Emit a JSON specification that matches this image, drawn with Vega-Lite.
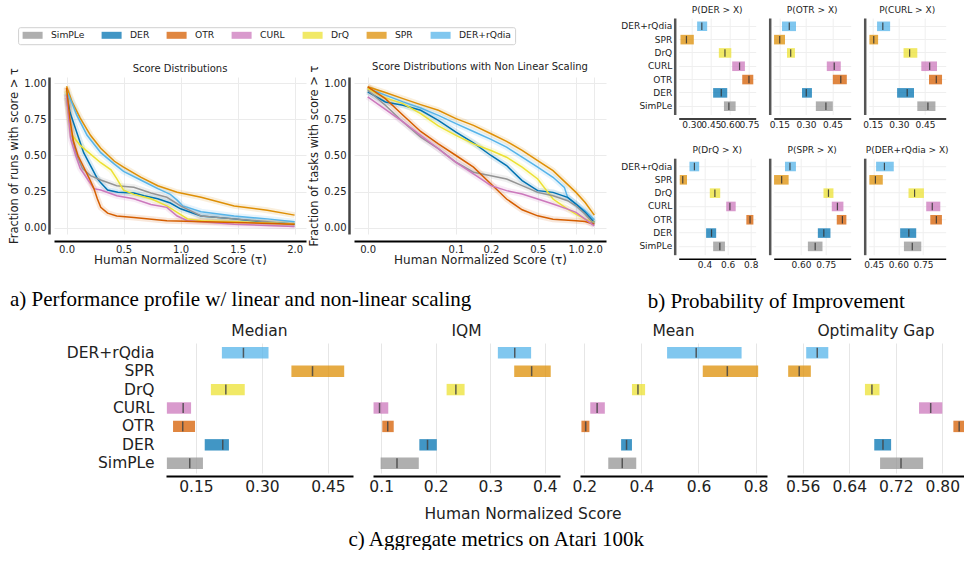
{
"$schema": "https://vega.github.io/schema/vega-lite/v6.json",
"background": "white",
"padding": {"left": 8, "top": 6, "right": 0, "bottom": 0},
"spacing": 11,
"config": {
 "font": "DejaVu Sans",
 "view": {"stroke": null},
 "axis": {"ticks": false, "labelColor": "#222", "titleColor": "#222", "titleFontWeight": "normal", "labelFlush": false, "labelOverlap": false, "gridColor": "#ebebeb", "gridWidth": 1},
 "title": {"fontWeight": "normal", "color": "#222", "frame": "group", "anchor": "middle"}
},
"datasets": {
 "profLin": [
  {"method":"SPR","tau":0,"f":0.98},{"method":"SPR","tau":0.05,"f":0.87},{"method":"SPR","tau":0.12,"f":0.76},{"method":"SPR","tau":0.21,"f":0.64},{"method":"SPR","tau":0.3,"f":0.55},{"method":"SPR","tau":0.42,"f":0.46},{"method":"SPR","tau":0.5,"f":0.42},{"method":"SPR","tau":0.65,"f":0.35},{"method":"SPR","tau":0.8,"f":0.29},{"method":"SPR","tau":0.97,"f":0.245},{"method":"SPR","tau":1.18,"f":0.21},{"method":"SPR","tau":1.47,"f":0.15},{"method":"SPR","tau":1.76,"f":0.12},{"method":"SPR","tau":2.0,"f":0.086},
  {"method":"DER+rQdia","tau":0,"f":0.95},{"method":"DER+rQdia","tau":0.05,"f":0.86},{"method":"DER+rQdia","tau":0.09,"f":0.78},{"method":"DER+rQdia","tau":0.18,"f":0.64},{"method":"DER+rQdia","tau":0.3,"f":0.52},{"method":"DER+rQdia","tau":0.42,"f":0.44},{"method":"DER+rQdia","tau":0.5,"f":0.39},{"method":"DER+rQdia","tau":0.65,"f":0.33},{"method":"DER+rQdia","tau":0.8,"f":0.27},{"method":"DER+rQdia","tau":0.91,"f":0.23},{"method":"DER+rQdia","tau":0.97,"f":0.19},{"method":"DER+rQdia","tau":1.02,"f":0.15},{"method":"DER+rQdia","tau":1.18,"f":0.11},{"method":"DER+rQdia","tau":1.47,"f":0.08},{"method":"DER+rQdia","tau":1.76,"f":0.06},{"method":"DER+rQdia","tau":2.0,"f":0.04},
  {"method":"DER","tau":0,"f":0.93},{"method":"DER","tau":0.03,"f":0.8},{"method":"DER","tau":0.09,"f":0.66},{"method":"DER","tau":0.15,"f":0.52},{"method":"DER","tau":0.21,"f":0.43},{"method":"DER","tau":0.27,"f":0.34},{"method":"DER","tau":0.3,"f":0.31},{"method":"DER","tau":0.36,"f":0.26},{"method":"DER","tau":0.45,"f":0.245},{"method":"DER","tau":0.59,"f":0.24},{"method":"DER","tau":0.68,"f":0.22},{"method":"DER","tau":0.8,"f":0.2},{"method":"DER","tau":0.91,"f":0.17},{"method":"DER","tau":1.0,"f":0.13},{"method":"DER","tau":1.18,"f":0.08},{"method":"DER","tau":1.47,"f":0.06},{"method":"DER","tau":1.76,"f":0.035},{"method":"DER","tau":2.0,"f":0.025},
  {"method":"SimPLe","tau":0,"f":0.9},{"method":"SimPLe","tau":0.04,"f":0.66},{"method":"SimPLe","tau":0.08,"f":0.52},{"method":"SimPLe","tau":0.14,"f":0.41},{"method":"SimPLe","tau":0.21,"f":0.36},{"method":"SimPLe","tau":0.3,"f":0.33},{"method":"SimPLe","tau":0.44,"f":0.29},{"method":"SimPLe","tau":0.59,"f":0.28},{"method":"SimPLe","tau":0.74,"f":0.24},{"method":"SimPLe","tau":0.88,"f":0.21},{"method":"SimPLe","tau":1.0,"f":0.15},{"method":"SimPLe","tau":1.18,"f":0.08},{"method":"SimPLe","tau":1.47,"f":0.06},{"method":"SimPLe","tau":1.76,"f":0.04},{"method":"SimPLe","tau":2.0,"f":0.02},
  {"method":"DrQ","tau":0,"f":0.95},{"method":"DrQ","tau":0.02,"f":0.78},{"method":"DrQ","tau":0.05,"f":0.64},{"method":"DrQ","tau":0.12,"f":0.57},{"method":"DrQ","tau":0.21,"f":0.51},{"method":"DrQ","tau":0.3,"f":0.45},{"method":"DrQ","tau":0.39,"f":0.4},{"method":"DrQ","tau":0.44,"f":0.34},{"method":"DrQ","tau":0.5,"f":0.26},{"method":"DrQ","tau":0.59,"f":0.23},{"method":"DrQ","tau":0.74,"f":0.2},{"method":"DrQ","tau":0.88,"f":0.15},{"method":"DrQ","tau":0.97,"f":0.105},{"method":"DrQ","tau":1.06,"f":0.06},{"method":"DrQ","tau":1.18,"f":0.047},{"method":"DrQ","tau":1.47,"f":0.04},{"method":"DrQ","tau":2.0,"f":0.025},
  {"method":"CURL","tau":0,"f":0.92},{"method":"CURL","tau":0.035,"f":0.62},{"method":"CURL","tau":0.08,"f":0.5},{"method":"CURL","tau":0.12,"f":0.41},{"method":"CURL","tau":0.18,"f":0.34},{"method":"CURL","tau":0.24,"f":0.27},{"method":"CURL","tau":0.3,"f":0.26},{"method":"CURL","tau":0.44,"f":0.22},{"method":"CURL","tau":0.59,"f":0.2},{"method":"CURL","tau":0.74,"f":0.16},{"method":"CURL","tau":0.88,"f":0.14},{"method":"CURL","tau":0.97,"f":0.08},{"method":"CURL","tau":1.06,"f":0.047},{"method":"CURL","tau":1.47,"f":0.023},{"method":"CURL","tau":2.0,"f":0.007},
  {"method":"OTR","tau":0,"f":0.97},{"method":"OTR","tau":0.03,"f":0.75},{"method":"OTR","tau":0.06,"f":0.6},{"method":"OTR","tau":0.1,"f":0.5},{"method":"OTR","tau":0.15,"f":0.42},{"method":"OTR","tau":0.2,"f":0.34},{"method":"OTR","tau":0.24,"f":0.27},{"method":"OTR","tau":0.27,"f":0.2},{"method":"OTR","tau":0.3,"f":0.14},{"method":"OTR","tau":0.36,"f":0.1},{"method":"OTR","tau":0.44,"f":0.08},{"method":"OTR","tau":0.59,"f":0.07},{"method":"OTR","tau":0.88,"f":0.047},{"method":"OTR","tau":1.47,"f":0.035},{"method":"OTR","tau":2.0,"f":0.023}
 ],
 "profNL": [
  {"method":"SPR","tau":0,"f":0.977},{"method":"SPR","tau":0.02,"f":0.937},{"method":"SPR","tau":0.04,"f":0.895},{"method":"SPR","tau":0.06,"f":0.853},{"method":"SPR","tau":0.08,"f":0.814},{"method":"SPR","tau":0.1,"f":0.756},{"method":"SPR","tau":0.15,"f":0.709},{"method":"SPR","tau":0.2,"f":0.651},{"method":"SPR","tau":0.3,"f":0.598},{"method":"SPR","tau":0.4,"f":0.535},{"method":"SPR","tau":0.5,"f":0.465},{"method":"SPR","tau":0.7,"f":0.395},{"method":"SPR","tau":1.0,"f":0.244},{"method":"SPR","tau":1.5,"f":0.174},{"method":"SPR","tau":2.0,"f":0.086},
  {"method":"DER+rQdia","tau":0,"f":0.965},{"method":"DER+rQdia","tau":0.02,"f":0.919},{"method":"DER+rQdia","tau":0.04,"f":0.872},{"method":"DER+rQdia","tau":0.06,"f":0.83},{"method":"DER+rQdia","tau":0.08,"f":0.779},{"method":"DER+rQdia","tau":0.1,"f":0.721},{"method":"DER+rQdia","tau":0.15,"f":0.667},{"method":"DER+rQdia","tau":0.2,"f":0.612},{"method":"DER+rQdia","tau":0.3,"f":0.558},{"method":"DER+rQdia","tau":0.4,"f":0.488},{"method":"DER+rQdia","tau":0.5,"f":0.419},{"method":"DER+rQdia","tau":0.7,"f":0.349},{"method":"DER+rQdia","tau":0.848,"f":0.279},{"method":"DER+rQdia","tau":0.891,"f":0.209},{"method":"DER+rQdia","tau":1.0,"f":0.163},{"method":"DER+rQdia","tau":1.5,"f":0.116},{"method":"DER+rQdia","tau":2.0,"f":0.053},
  {"method":"DER","tau":0,"f":0.942},{"method":"DER","tau":0.02,"f":0.872},{"method":"DER","tau":0.04,"f":0.849},{"method":"DER","tau":0.06,"f":0.814},{"method":"DER","tau":0.08,"f":0.744},{"method":"DER","tau":0.1,"f":0.663},{"method":"DER","tau":0.15,"f":0.588},{"method":"DER","tau":0.2,"f":0.5},{"method":"DER","tau":0.3,"f":0.43},{"method":"DER","tau":0.4,"f":0.326},{"method":"DER","tau":0.5,"f":0.256},{"method":"DER","tau":0.7,"f":0.244},{"method":"DER","tau":0.891,"f":0.209},{"method":"DER","tau":1.0,"f":0.163},{"method":"DER","tau":1.5,"f":0.105},{"method":"DER","tau":2.0,"f":0.035},
  {"method":"DrQ","tau":0,"f":0.965},{"method":"DrQ","tau":0.02,"f":0.9},{"method":"DrQ","tau":0.04,"f":0.86},{"method":"DrQ","tau":0.06,"f":0.791},{"method":"DrQ","tau":0.08,"f":0.705},{"method":"DrQ","tau":0.1,"f":0.64},{"method":"DrQ","tau":0.15,"f":0.581},{"method":"DrQ","tau":0.2,"f":0.535},{"method":"DrQ","tau":0.3,"f":0.488},{"method":"DrQ","tau":0.4,"f":0.419},{"method":"DrQ","tau":0.5,"f":0.337},{"method":"DrQ","tau":0.7,"f":0.198},{"method":"DrQ","tau":0.891,"f":0.128},{"method":"DrQ","tau":1.0,"f":0.093},{"method":"DrQ","tau":1.5,"f":0.058},{"method":"DrQ","tau":2.0,"f":0.035},
  {"method":"SimPLe","tau":0,"f":0.953},{"method":"SimPLe","tau":0.02,"f":0.849},{"method":"SimPLe","tau":0.04,"f":0.733},{"method":"SimPLe","tau":0.06,"f":0.628},{"method":"SimPLe","tau":0.08,"f":0.547},{"method":"SimPLe","tau":0.1,"f":0.453},{"method":"SimPLe","tau":0.15,"f":0.384},{"method":"SimPLe","tau":0.2,"f":0.36},{"method":"SimPLe","tau":0.3,"f":0.337},{"method":"SimPLe","tau":0.4,"f":0.291},{"method":"SimPLe","tau":0.5,"f":0.244},{"method":"SimPLe","tau":0.7,"f":0.221},{"method":"SimPLe","tau":0.891,"f":0.186},{"method":"SimPLe","tau":1.0,"f":0.151},{"method":"SimPLe","tau":1.5,"f":0.093},{"method":"SimPLe","tau":2.0,"f":0.023},
  {"method":"OTR","tau":0,"f":0.977},{"method":"OTR","tau":0.02,"f":0.895},{"method":"OTR","tau":0.04,"f":0.779},{"method":"OTR","tau":0.06,"f":0.667},{"method":"OTR","tau":0.08,"f":0.581},{"method":"OTR","tau":0.1,"f":0.5},{"method":"OTR","tau":0.15,"f":0.419},{"method":"OTR","tau":0.2,"f":0.302},{"method":"OTR","tau":0.3,"f":0.198},{"method":"OTR","tau":0.4,"f":0.123},{"method":"OTR","tau":0.5,"f":0.081},{"method":"OTR","tau":0.7,"f":0.058},{"method":"OTR","tau":1.0,"f":0.047},{"method":"OTR","tau":1.5,"f":0.042},{"method":"OTR","tau":2.0,"f":0.023},
  {"method":"CURL","tau":0,"f":0.907},{"method":"CURL","tau":0.02,"f":0.821},{"method":"CURL","tau":0.04,"f":0.733},{"method":"CURL","tau":0.06,"f":0.64},{"method":"CURL","tau":0.08,"f":0.547},{"method":"CURL","tau":0.1,"f":0.453},{"method":"CURL","tau":0.15,"f":0.372},{"method":"CURL","tau":0.2,"f":0.291},{"method":"CURL","tau":0.3,"f":0.256},{"method":"CURL","tau":0.4,"f":0.233},{"method":"CURL","tau":0.5,"f":0.198},{"method":"CURL","tau":0.7,"f":0.163},{"method":"CURL","tau":0.891,"f":0.128},{"method":"CURL","tau":1.0,"f":0.105},{"method":"CURL","tau":1.5,"f":0.058},{"method":"CURL","tau":2.0,"f":0.012}
 ],
 "poi": [
  {"panel":"DER","method":"DER+rQdia","lo":0.342,"med":0.379,"hi":0.421},{"panel":"DER","method":"SPR","lo":0.211,"med":0.258,"hi":0.316},{"panel":"DER","method":"DrQ","lo":0.513,"med":0.561,"hi":0.611},{"panel":"DER","method":"CURL","lo":0.618,"med":0.676,"hi":0.718},{"panel":"DER","method":"OTR","lo":0.697,"med":0.75,"hi":0.784},{"panel":"DER","method":"DER","lo":0.468,"med":0.532,"hi":0.579},{"panel":"DER","method":"SimPLe","lo":0.553,"med":0.592,"hi":0.645},
  {"panel":"OTR","method":"DER+rQdia","lo":0.165,"med":0.206,"hi":0.244},{"panel":"OTR","method":"SPR","lo":0.12,"med":0.152,"hi":0.182},{"panel":"OTR","method":"DrQ","lo":0.193,"med":0.214,"hi":0.238},{"panel":"OTR","method":"CURL","lo":0.418,"med":0.46,"hi":0.497},{"panel":"OTR","method":"OTR","lo":0.452,"med":0.497,"hi":0.531},{"panel":"OTR","method":"DER","lo":0.278,"med":0.302,"hi":0.334},{"panel":"OTR","method":"SimPLe","lo":0.356,"med":0.413,"hi":0.452},
  {"panel":"CURL","method":"DER+rQdia","lo":0.175,"med":0.208,"hi":0.25},{"panel":"CURL","method":"SPR","lo":0.131,"med":0.156,"hi":0.181},{"panel":"CURL","method":"DrQ","lo":0.327,"med":0.362,"hi":0.406},{"panel":"CURL","method":"CURL","lo":0.429,"med":0.477,"hi":0.519},{"panel":"CURL","method":"OTR","lo":0.473,"med":0.515,"hi":0.548},{"panel":"CURL","method":"DER","lo":0.29,"med":0.348,"hi":0.387},{"panel":"CURL","method":"SimPLe","lo":0.406,"med":0.467,"hi":0.51},
  {"panel":"DrQ","method":"DER+rQdia","lo":0.27,"med":0.313,"hi":0.354},{"panel":"DrQ","method":"SPR","lo":0.186,"med":0.212,"hi":0.249},{"panel":"DrQ","method":"DrQ","lo":0.446,"med":0.49,"hi":0.536},{"panel":"DrQ","method":"CURL","lo":0.588,"med":0.62,"hi":0.67},{"panel":"DrQ","method":"OTR","lo":0.762,"med":0.794,"hi":0.823},{"panel":"DrQ","method":"DER","lo":0.414,"med":0.461,"hi":0.501},{"panel":"DrQ","method":"SimPLe","lo":0.475,"med":0.533,"hi":0.577},
  {"panel":"SPR","method":"DER+rQdia","lo":0.504,"med":0.534,"hi":0.57},{"panel":"SPR","method":"SPR","lo":0.438,"med":0.484,"hi":0.526},{"panel":"SPR","method":"DrQ","lo":0.736,"med":0.766,"hi":0.796},{"panel":"SPR","method":"CURL","lo":0.786,"med":0.82,"hi":0.856},{"panel":"SPR","method":"OTR","lo":0.816,"med":0.85,"hi":0.874},{"panel":"SPR","method":"DER","lo":0.702,"med":0.738,"hi":0.778},{"panel":"SPR","method":"SimPLe","lo":0.642,"med":0.686,"hi":0.73},
  {"panel":"DER+rQdia","method":"DER+rQdia","lo":0.464,"med":0.515,"hi":0.572},{"panel":"DER+rQdia","method":"SPR","lo":0.423,"med":0.46,"hi":0.505},{"panel":"DER+rQdia","method":"DrQ","lo":0.662,"med":0.699,"hi":0.756},{"panel":"DER+rQdia","method":"CURL","lo":0.77,"med":0.807,"hi":0.856},{"panel":"DER+rQdia","method":"OTR","lo":0.795,"med":0.832,"hi":0.866},{"panel":"DER+rQdia","method":"DER","lo":0.611,"med":0.664,"hi":0.709},{"panel":"DER+rQdia","method":"SimPLe","lo":0.634,"med":0.685,"hi":0.74}
 ],
 "agg": [
  {"metric":"Median","method":"DER+rQdia","lo":0.209,"med":0.258,"hi":0.315},{"metric":"Median","method":"SPR","lo":0.367,"med":0.415,"hi":0.487},{"metric":"Median","method":"DrQ","lo":0.184,"med":0.218,"hi":0.261},{"metric":"Median","method":"CURL","lo":0.084,"med":0.121,"hi":0.139},{"metric":"Median","method":"OTR","lo":0.098,"med":0.12,"hi":0.148},{"metric":"Median","method":"DER","lo":0.17,"med":0.211,"hi":0.225},{"metric":"Median","method":"SimPLe","lo":0.084,"med":0.136,"hi":0.166},
  {"metric":"IQM","method":"DER+rQdia","lo":0.314,"med":0.345,"hi":0.375},{"metric":"IQM","method":"SPR","lo":0.344,"med":0.376,"hi":0.411},{"metric":"IQM","method":"DrQ","lo":0.22,"med":0.237,"hi":0.253},{"metric":"IQM","method":"CURL","lo":0.086,"med":0.097,"hi":0.113},{"metric":"IQM","method":"OTR","lo":0.102,"med":0.112,"hi":0.123},{"metric":"IQM","method":"DER","lo":0.17,"med":0.185,"hi":0.202},{"metric":"IQM","method":"SimPLe","lo":0.099,"med":0.129,"hi":0.169},
  {"metric":"Mean","method":"DER+rQdia","lo":0.49,"med":0.592,"hi":0.751},{"metric":"Mean","method":"SPR","lo":0.615,"med":0.701,"hi":0.809},{"metric":"Mean","method":"DrQ","lo":0.367,"med":0.388,"hi":0.413},{"metric":"Mean","method":"CURL","lo":0.221,"med":0.245,"hi":0.272},{"metric":"Mean","method":"OTR","lo":0.19,"med":0.205,"hi":0.218},{"metric":"Mean","method":"DER","lo":0.329,"med":0.348,"hi":0.367},{"metric":"Mean","method":"SimPLe","lo":0.284,"med":0.333,"hi":0.382},
  {"metric":"Gap","method":"DER+rQdia","lo":0.566,"med":0.585,"hi":0.604},{"metric":"Gap","method":"SPR","lo":0.535,"med":0.554,"hi":0.574},{"metric":"Gap","method":"DrQ","lo":0.667,"med":0.679,"hi":0.692},{"metric":"Gap","method":"CURL","lo":0.76,"med":0.78,"hi":0.8},{"metric":"Gap","method":"OTR","lo":0.819,"med":0.829,"hi":0.845},{"metric":"Gap","method":"DER","lo":0.683,"med":0.698,"hi":0.712},{"metric":"Gap","method":"SimPLe","lo":0.693,"med":0.729,"hi":0.767}
 ]
},
"vconcat": [
 {
  "spacing": 13.7,
  "hconcat": [
   {
    "spacing": 43,
    "title": {"text": "a) Performance profile w/ linear and non-linear scaling", "orient": "bottom", "anchor": "start", "frame": "group", "dx": -44, "offset": 24, "font": "Liberation Serif", "fontSize": 21, "color": "#000", "baseline": "top"},
    "vconcat": [
     {
      "width": 1, "height": 1, "data": {"name": "poi"},
      "transform": [{"filter": "datum.lo > 5"}],
      "mark": {"type": "rect", "opacity": 0.75},
      "encoding": {"color": {"field": "method", "type": "nominal", "scale": {"domain": ["SimPLe","DER","OTR","CURL","DrQ","SPR","DER+rQdia"], "range": ["#949494","#0173B2","#D55E00","#CC78BC","#ECE133","#DE8F05","#56B4E9"]}, "legend": {"orient": "none", "legendX": -35.9, "legendY": 9.2, "direction": "horizontal", "gridAlign": "each", "title": null, "symbolType": "M-1,-1H4.714V1H-1Z", "symbolSize": 49, "symbolStrokeWidth": 0, "symbolOpacity": 0.75, "labelFontSize": 9.2, "labelOffset": 20.3, "columnPadding": 16, "padding": 3.4, "strokeColor": "#d0d0d0", "cornerRadius": 2, "fillColor": "white", "labelColor": "#222"}}}
     },
     {
      "bounds": "flush", "spacing": 48,
      "hconcat": [
       {
        "width": 252, "height": 157,
        "data": {"name": "profLin"},
        "title": {"text": "Score Distributions", "fontSize": 10, "offset": -7},
        "encoding": {
         "x": {"field": "tau", "type": "quantitative", "scale": {"domain": [-0.11, 2.1], "nice": false, "zero": false}, "axis": {"values": [0, 0.5, 1, 1.5, 2], "format": ".1f", "title": "Human Normalized Score (τ)", "titleFontSize": 12, "titlePadding": 0, "labelFontSize": 10, "labelPadding": 3, "labelOverlap": false, "offset": 7, "domainColor": "#000", "domainWidth": 2, "grid": true}},
         "y": {"field": "f", "type": "quantitative", "scale": {"domain": [-0.045, 1.045], "nice": false, "zero": false}, "axis": {"values": [0, 0.25, 0.5, 0.75, 1], "format": ".2f", "title": "Fraction of runs with score > τ", "titleFontSize": 11.5, "titlePadding": 4, "labelFontSize": 10, "labelPadding": 3, "labelOverlap": false, "offset": 5, "domainColor": "#444", "domainWidth": 2.5, "grid": true}},
         "stroke": {"field": "method", "type": "nominal", "scale": {"domain": ["SimPLe","DER","OTR","CURL","DrQ","SPR","DER+rQdia"], "range": ["#949494","#0173B2","#D55E00","#CC78BC","#ECE133","#DE8F05","#56B4E9"]}, "legend": null}
        },
        "layer": [
         {"mark": {"type": "line", "strokeWidth": 6, "opacity": 0.14}, "encoding": {}},
         {"mark": {"type": "line", "strokeWidth": 1.5}, "encoding": {}}
        ]
       },
       {
        "width": 252, "height": 157,
        "data": {"name": "profNL"},
        "title": {"text": "Score Distributions with Non Linear Scaling", "fontSize": 10, "offset": -7},
        "encoding": {
         "x": {"field": "tau", "type": "quantitative", "scale": {"type": "linear", "domain": [-0.0155, 0, 0.1, 0.2, 0.5, 1, 2, 2.64], "range": [0, 13.7, 102, 137, 183.7, 222, 240.3, 252], "nice": false, "zero": false}, "axis": {"values": [0, 0.1, 0.2, 0.5, 1, 2], "format": ".1f", "title": "Human Normalized Score (τ)", "titleFontSize": 12, "titlePadding": 0, "labelFontSize": 10, "labelPadding": 3, "labelOverlap": false, "offset": 7, "domainColor": "#000", "domainWidth": 2, "grid": true}},
         "y": {"field": "f", "type": "quantitative", "scale": {"domain": [-0.045, 1.045], "nice": false, "zero": false}, "axis": {"values": [0, 0.25, 0.5, 0.75, 1], "format": ".2f", "title": "Fraction of tasks with score > τ", "titleFontSize": 11.5, "titlePadding": 4, "labelFontSize": 10, "labelPadding": 3, "labelOverlap": false, "offset": 5, "domainColor": "#444", "domainWidth": 2.5, "grid": true}},
         "stroke": {"field": "method", "type": "nominal", "scale": {"domain": ["SimPLe","DER","OTR","CURL","DrQ","SPR","DER+rQdia"], "range": ["#949494","#0173B2","#D55E00","#CC78BC","#ECE133","#DE8F05","#56B4E9"]}, "legend": null}
        },
        "layer": [
         {"mark": {"type": "line", "strokeWidth": 6, "opacity": 0.14}, "encoding": {}},
         {"mark": {"type": "line", "strokeWidth": 1.5}, "encoding": {}}
        ]
       }
      ]
     }
    ]
   },
   {
    "spacing": 16.2,
    "title": {"text": "b) Probability of Improvement", "orient": "bottom", "anchor": "start", "frame": "group", "dx": -31, "offset": 21, "font": "Liberation Serif", "fontSize": 21, "color": "#000", "baseline": "top"},
    "vconcat": [
     {
      "bounds": "flush", "spacing": 18,
      "hconcat": [
       {
        "width": 77, "height": 96.5, "data": {"name": "poi"},
        "transform": [{"filter": "datum.panel === 'DER'"}],
        "title": {"text": "P(DER > X)", "fontSize": 9, "offset": 3},
        "encoding": {
         "y": {"field": "method", "type": "nominal", "scale": {"domain": ["DER+rQdia","SPR","DrQ","CURL","OTR","DER","SimPLe"], "paddingInner": 0, "paddingOuter": 0.125}, "axis": {"title": null, "labelFontSize": 9, "labelPadding": 3, "offset": 4, "domainColor": "#555", "domainWidth": 2.5, "grid": true, "gridColor": "#efefef", "bandPosition": 0.5}},
         "x": {"field": "lo", "type": "quantitative", "scale": {"domain": [0.197, 0.803], "nice": false, "zero": false}, "axis": {"values": [0.3, 0.45, 0.6, 0.75], "format": ".2f", "title": null, "labelFontSize": 9, "labelPadding": 2, "labelOverlap": false, "labelSeparation": -40, "offset": 4, "domainColor": "#000", "domainWidth": 1.5, "grid": true, "gridColor": "#efefef"}}
        },
        "layer": [
         {"mark": {"type": "bar", "opacity": 0.75, "height": {"band": 0.72}}, "encoding": {"x2": {"field": "hi"}, "color": {"field": "method", "type": "nominal", "scale": {"domain": ["SimPLe","DER","OTR","CURL","DrQ","SPR","DER+rQdia"], "range": ["#949494","#0173B2","#D55E00","#CC78BC","#ECE133","#DE8F05","#56B4E9"]}}}},
         {"mark": {"type": "tick", "color": "#333", "thickness": 1.2, "size": 7.5, "opacity": 0.85}, "encoding": {"x": {"field": "med", "type": "quantitative"}}}
        ]
       },
       {
        "width": 77, "height": 96.5, "data": {"name": "poi"},
        "transform": [{"filter": "datum.panel === 'OTR'"}],
        "title": {"text": "P(OTR > X)", "fontSize": 9, "offset": 3},
        "encoding": {
         "y": {"field": "method", "type": "nominal", "scale": {"domain": ["DER+rQdia","SPR","DrQ","CURL","OTR","DER","SimPLe"], "paddingInner": 0, "paddingOuter": 0.125}, "axis": {"title": null, "labels": false, "offset": 4, "domainColor": "#555", "domainWidth": 2.5, "grid": true, "gridColor": "#efefef", "bandPosition": 0.5}},
         "x": {"field": "lo", "type": "quantitative", "scale": {"domain": [0.118, 0.553], "nice": false, "zero": false}, "axis": {"values": [0.15, 0.3, 0.45], "format": ".2f", "title": null, "labelFontSize": 9, "labelPadding": 2, "labelOverlap": false, "labelSeparation": -40, "offset": 4, "domainColor": "#000", "domainWidth": 1.5, "grid": true, "gridColor": "#efefef"}}
        },
        "layer": [
         {"mark": {"type": "bar", "opacity": 0.75, "height": {"band": 0.72}}, "encoding": {"x2": {"field": "hi"}, "color": {"field": "method", "type": "nominal", "scale": {"domain": ["SimPLe","DER","OTR","CURL","DrQ","SPR","DER+rQdia"], "range": ["#949494","#0173B2","#D55E00","#CC78BC","#ECE133","#DE8F05","#56B4E9"]}}}},
         {"mark": {"type": "tick", "color": "#333", "thickness": 1.2, "size": 7.5, "opacity": 0.85}, "encoding": {"x": {"field": "med", "type": "quantitative"}}}
        ]
       },
       {
        "width": 77, "height": 96.5, "data": {"name": "poi"},
        "transform": [{"filter": "datum.panel === 'CURL'"}],
        "title": {"text": "P(CURL > X)", "fontSize": 9, "offset": 3},
        "encoding": {
         "y": {"field": "method", "type": "nominal", "scale": {"domain": ["DER+rQdia","SPR","DrQ","CURL","OTR","DER","SimPLe"], "paddingInner": 0, "paddingOuter": 0.125}, "axis": {"title": null, "labels": false, "offset": 4, "domainColor": "#555", "domainWidth": 2.5, "grid": true, "gridColor": "#efefef", "bandPosition": 0.5}},
         "x": {"field": "lo", "type": "quantitative", "scale": {"domain": [0.127, 0.569], "nice": false, "zero": false}, "axis": {"values": [0.15, 0.3, 0.45], "format": ".2f", "title": null, "labelFontSize": 9, "labelPadding": 2, "labelOverlap": false, "labelSeparation": -40, "offset": 4, "domainColor": "#000", "domainWidth": 1.5, "grid": true, "gridColor": "#efefef"}}
        },
        "layer": [
         {"mark": {"type": "bar", "opacity": 0.75, "height": {"band": 0.72}}, "encoding": {"x2": {"field": "hi"}, "color": {"field": "method", "type": "nominal", "scale": {"domain": ["SimPLe","DER","OTR","CURL","DrQ","SPR","DER+rQdia"], "range": ["#949494","#0173B2","#D55E00","#CC78BC","#ECE133","#DE8F05","#56B4E9"]}}}},
         {"mark": {"type": "tick", "color": "#333", "thickness": 1.2, "size": 7.5, "opacity": 0.85}, "encoding": {"x": {"field": "med", "type": "quantitative"}}}
        ]
       }
      ]
     },
     {
      "bounds": "flush", "spacing": 18,
      "hconcat": [
       {
        "width": 77, "height": 96.5, "data": {"name": "poi"},
        "transform": [{"filter": "datum.panel === 'DrQ'"}],
        "title": {"text": "P(DrQ > X)", "fontSize": 9, "offset": 3},
        "encoding": {
         "y": {"field": "method", "type": "nominal", "scale": {"domain": ["DER+rQdia","SPR","DrQ","CURL","OTR","DER","SimPLe"], "paddingInner": 0, "paddingOuter": 0.125}, "axis": {"title": null, "labelFontSize": 9, "labelPadding": 3, "offset": 4, "domainColor": "#555", "domainWidth": 2.5, "grid": true, "gridColor": "#efefef", "bandPosition": 0.5}},
         "x": {"field": "lo", "type": "quantitative", "scale": {"domain": [0.177, 0.843], "nice": false, "zero": false}, "axis": {"values": [0.4, 0.6, 0.8], "format": ".1f", "title": null, "labelFontSize": 9, "labelPadding": 2, "labelOverlap": false, "labelSeparation": -40, "offset": 4, "domainColor": "#000", "domainWidth": 1.5, "grid": true, "gridColor": "#efefef"}}
        },
        "layer": [
         {"mark": {"type": "bar", "opacity": 0.75, "height": {"band": 0.72}}, "encoding": {"x2": {"field": "hi"}, "color": {"field": "method", "type": "nominal", "scale": {"domain": ["SimPLe","DER","OTR","CURL","DrQ","SPR","DER+rQdia"], "range": ["#949494","#0173B2","#D55E00","#CC78BC","#ECE133","#DE8F05","#56B4E9"]}}}},
         {"mark": {"type": "tick", "color": "#333", "thickness": 1.2, "size": 7.5, "opacity": 0.85}, "encoding": {"x": {"field": "med", "type": "quantitative"}}}
        ]
       },
       {
        "width": 77, "height": 96.5, "data": {"name": "poi"},
        "transform": [{"filter": "datum.panel === 'SPR'"}],
        "title": {"text": "P(SPR > X)", "fontSize": 9, "offset": 3},
        "encoding": {
         "y": {"field": "method", "type": "nominal", "scale": {"domain": ["DER+rQdia","SPR","DrQ","CURL","OTR","DER","SimPLe"], "paddingInner": 0, "paddingOuter": 0.125}, "axis": {"title": null, "labels": false, "offset": 4, "domainColor": "#555", "domainWidth": 2.5, "grid": true, "gridColor": "#efefef", "bandPosition": 0.5}},
         "x": {"field": "lo", "type": "quantitative", "scale": {"domain": [0.436, 0.9], "nice": false, "zero": false}, "axis": {"values": [0.6, 0.75], "format": ".2f", "title": null, "labelFontSize": 9, "labelPadding": 2, "labelOverlap": false, "labelSeparation": -40, "offset": 4, "domainColor": "#000", "domainWidth": 1.5, "grid": true, "gridColor": "#efefef"}}
        },
        "layer": [
         {"mark": {"type": "bar", "opacity": 0.75, "height": {"band": 0.72}}, "encoding": {"x2": {"field": "hi"}, "color": {"field": "method", "type": "nominal", "scale": {"domain": ["SimPLe","DER","OTR","CURL","DrQ","SPR","DER+rQdia"], "range": ["#949494","#0173B2","#D55E00","#CC78BC","#ECE133","#DE8F05","#56B4E9"]}}}},
         {"mark": {"type": "tick", "color": "#333", "thickness": 1.2, "size": 7.5, "opacity": 0.85}, "encoding": {"x": {"field": "med", "type": "quantitative"}}}
        ]
       },
       {
        "width": 77, "height": 96.5, "data": {"name": "poi"},
        "transform": [{"filter": "datum.panel === 'DER+rQdia'"}],
        "title": {"text": "P(DER+rQdia > X)", "fontSize": 9, "offset": 3},
        "encoding": {
         "y": {"field": "method", "type": "nominal", "scale": {"domain": ["DER+rQdia","SPR","DrQ","CURL","OTR","DER","SimPLe"], "paddingInner": 0, "paddingOuter": 0.125}, "axis": {"title": null, "labels": false, "offset": 4, "domainColor": "#555", "domainWidth": 2.5, "grid": true, "gridColor": "#efefef", "bandPosition": 0.5}},
         "x": {"field": "lo", "type": "quantitative", "scale": {"domain": [0.419, 0.889], "nice": false, "zero": false}, "axis": {"values": [0.45, 0.6, 0.75], "format": ".2f", "title": null, "labelFontSize": 9, "labelPadding": 2, "labelOverlap": false, "labelSeparation": -40, "offset": 4, "domainColor": "#000", "domainWidth": 1.5, "grid": true, "gridColor": "#efefef"}}
        },
        "layer": [
         {"mark": {"type": "bar", "opacity": 0.75, "height": {"band": 0.72}}, "encoding": {"x2": {"field": "hi"}, "color": {"field": "method", "type": "nominal", "scale": {"domain": ["SimPLe","DER","OTR","CURL","DrQ","SPR","DER+rQdia"], "range": ["#949494","#0173B2","#D55E00","#CC78BC","#ECE133","#DE8F05","#56B4E9"]}}}},
         {"mark": {"type": "tick", "color": "#333", "thickness": 1.2, "size": 7.5, "opacity": 0.85}, "encoding": {"x": {"field": "med", "type": "quantitative"}}}
        ]
       }
      ]
     }
    ]
   }
  ]
 },
 {
  "title": {"text": "c) Aggregate metrics on Atari 100k", "orient": "bottom", "anchor": "start", "frame": "group", "dx": 294.4, "offset": 6.5, "font": "Liberation Serif", "fontSize": 21, "color": "#000", "baseline": "top"},
  "vconcat": [
   {
    "bounds": "flush", "spacing": 20,
    "title": {"text": "Human Normalized Score", "orient": "bottom", "anchor": "start", "frame": "group", "dx": 370.4, "offset": 12.5, "font": "DejaVu Sans", "fontSize": 15.5, "color": "#222", "baseline": "top"},
    "hconcat": [
     {"width": 91.5, "height": 1, "data": {"values": [{"s": 0}]}, "mark": {"type": "rect", "opacity": 0}, "encoding": {}},
     {
      "width": 187, "height": 130, "data": {"name": "agg"},
      "transform": [{"filter": "datum.metric === 'Median'"}],
      "title": {"text": "Median", "fontSize": 15.5, "offset": 4},
      "encoding": {"y": {"field": "method", "type": "nominal", "scale": {"domain": ["DER+rQdia","SPR","DrQ","CURL","OTR","DER","SimPLe"], "paddingInner": 0, "paddingOuter": 0.03}, "axis": {"title": null, "domain": false, "labelFontSize": 15.5, "labelPadding": 12, "grid": false}}},
      "layer": [
       {"mark": {"type": "bar", "opacity": 0.75, "height": {"band": 0.62}}, "encoding": {"x": {"field": "lo", "type": "quantitative", "scale": {"domain": [0.082, 0.507], "nice": false, "zero": false}, "axis": {"values": [0.15, 0.3, 0.45], "format": ".2f", "title": null, "labelFontSize": 15.5, "labelPadding": 3, "labelOverlap": false, "offset": 3, "domainColor": "#000", "domainWidth": 2, "grid": true, "gridColor": "#e6e6e6"}}, "x2": {"field": "hi"}, "color": {"field": "method", "type": "nominal", "scale": {"domain": ["SimPLe","DER","OTR","CURL","DrQ","SPR","DER+rQdia"], "range": ["#949494","#0173B2","#D55E00","#CC78BC","#ECE133","#DE8F05","#56B4E9"]}}}},
       {"mark": {"type": "tick", "color": "#444", "thickness": 1.5, "size": 10, "opacity": 0.85}, "encoding": {"x": {"field": "med", "type": "quantitative"}}}
      ]
     },
     {
      "width": 187, "height": 130, "data": {"name": "agg"},
      "transform": [{"filter": "datum.metric === 'IQM'"}],
      "title": {"text": "IQM", "fontSize": 15.5, "offset": 4},
      "encoding": {"y": {"field": "method", "type": "nominal", "scale": {"domain": ["DER+rQdia","SPR","DrQ","CURL","OTR","DER","SimPLe"], "paddingInner": 0, "paddingOuter": 0.03}, "axis": null}},
      "layer": [
       {"mark": {"type": "bar", "opacity": 0.75, "height": {"band": 0.62}}, "encoding": {"x": {"field": "lo", "type": "quantitative", "scale": {"domain": [0.085, 0.428], "nice": false, "zero": false}, "axis": {"values": [0.1, 0.2, 0.3, 0.4], "format": ".1f", "title": null, "labelFontSize": 15.5, "labelPadding": 3, "labelOverlap": false, "offset": 3, "domainColor": "#000", "domainWidth": 2, "grid": true, "gridColor": "#e6e6e6"}}, "x2": {"field": "hi"}, "color": {"field": "method", "type": "nominal", "scale": {"domain": ["SimPLe","DER","OTR","CURL","DrQ","SPR","DER+rQdia"], "range": ["#949494","#0173B2","#D55E00","#CC78BC","#ECE133","#DE8F05","#56B4E9"]}}}},
       {"mark": {"type": "tick", "color": "#444", "thickness": 1.5, "size": 10, "opacity": 0.85}, "encoding": {"x": {"field": "med", "type": "quantitative"}}}
      ]
     },
     {
      "width": 187, "height": 130, "data": {"name": "agg"},
      "transform": [{"filter": "datum.metric === 'Mean'"}],
      "title": {"text": "Mean", "fontSize": 15.5, "offset": 4},
      "encoding": {"y": {"field": "method", "type": "nominal", "scale": {"domain": ["DER+rQdia","SPR","DrQ","CURL","OTR","DER","SimPLe"], "paddingInner": 0, "paddingOuter": 0.03}, "axis": null}},
      "layer": [
       {"mark": {"type": "bar", "opacity": 0.75, "height": {"band": 0.62}}, "encoding": {"x": {"field": "lo", "type": "quantitative", "scale": {"domain": [0.185, 0.84], "nice": false, "zero": false}, "axis": {"values": [0.2, 0.4, 0.6, 0.8], "format": ".1f", "title": null, "labelFontSize": 15.5, "labelPadding": 3, "labelOverlap": false, "offset": 3, "domainColor": "#000", "domainWidth": 2, "grid": true, "gridColor": "#e6e6e6"}}, "x2": {"field": "hi"}, "color": {"field": "method", "type": "nominal", "scale": {"domain": ["SimPLe","DER","OTR","CURL","DrQ","SPR","DER+rQdia"], "range": ["#949494","#0173B2","#D55E00","#CC78BC","#ECE133","#DE8F05","#56B4E9"]}}}},
       {"mark": {"type": "tick", "color": "#444", "thickness": 1.5, "size": 10, "opacity": 0.85}, "encoding": {"x": {"field": "med", "type": "quantitative"}}}
      ]
     },
     {
      "width": 178, "height": 130, "data": {"name": "agg"},
      "transform": [{"filter": "datum.metric === 'Gap'"}],
      "title": {"text": "Optimality Gap", "fontSize": 15.5, "offset": 4},
      "encoding": {"y": {"field": "method", "type": "nominal", "scale": {"domain": ["DER+rQdia","SPR","DrQ","CURL","OTR","DER","SimPLe"], "paddingInner": 0, "paddingOuter": 0.03}, "axis": null}},
      "layer": [
       {"mark": {"type": "bar", "opacity": 0.75, "height": {"band": 0.62}, "clip": true}, "encoding": {"x": {"field": "lo", "type": "quantitative", "scale": {"domain": [0.533, 0.839], "nice": false, "zero": false}, "axis": {"values": [0.56, 0.64, 0.72, 0.8], "format": ".2f", "title": null, "labelFontSize": 15.5, "labelPadding": 3, "labelOverlap": false, "offset": 3, "domainColor": "#000", "domainWidth": 2, "grid": true, "gridColor": "#e6e6e6"}}, "x2": {"field": "hi"}, "color": {"field": "method", "type": "nominal", "scale": {"domain": ["SimPLe","DER","OTR","CURL","DrQ","SPR","DER+rQdia"], "range": ["#949494","#0173B2","#D55E00","#CC78BC","#ECE133","#DE8F05","#56B4E9"]}}}},
       {"mark": {"type": "tick", "color": "#444", "thickness": 1.5, "size": 10, "opacity": 0.85}, "encoding": {"x": {"field": "med", "type": "quantitative"}}}
      ]
     }
    ]
   }
  ]
 }
]
}
